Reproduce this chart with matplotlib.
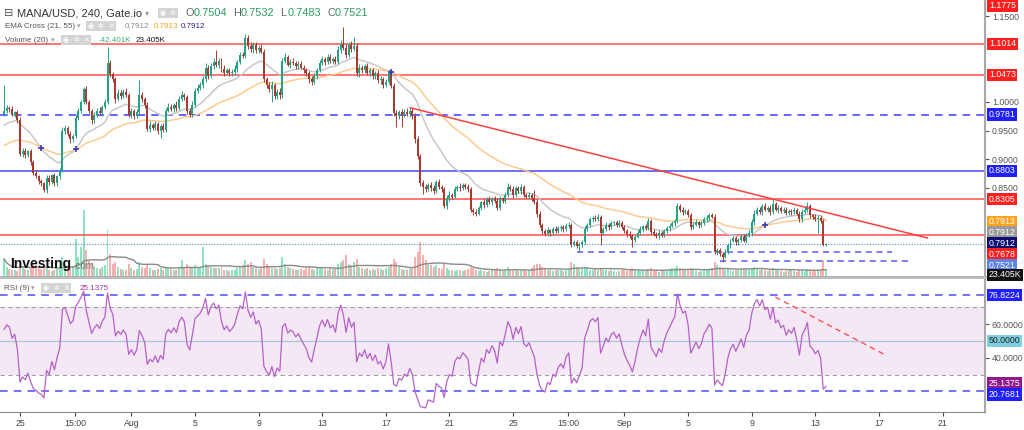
import numpy as np
import pandas as pd
import matplotlib
matplotlib.use("Agg")
import matplotlib.pyplot as plt
from matplotlib.transforms import blended_transform_factory

plt.rcParams['font.family'] = ['Liberation Sans', 'DejaVu Sans']

# MANA/USD 4h candles, Jul 24 00:00 -> Sep 13 16:00
first_open = 0.978
closes = [
    0.984, 0.990, 0.988, 0.978, 0.982, 0.968, 0.910, 0.915, 0.908, 0.914,
    0.895, 0.876, 0.870, 0.862, 0.858, 0.846, 0.868, 0.860, 0.872, 0.858,
    0.870, 0.880, 0.950, 0.955, 0.945, 0.935, 0.940, 0.972, 0.985, 1.000,
    1.022, 1.000, 0.985, 0.968, 0.978, 0.985, 0.980, 0.992, 1.000, 1.068,
    1.048, 1.040, 1.005, 1.015, 1.010, 1.018, 1.012, 0.978, 0.985, 0.975,
    0.982, 1.012, 1.005, 0.995, 0.953, 0.960, 0.955, 0.962, 0.950, 0.958,
    0.952, 0.985, 0.992, 0.988, 0.995, 0.990, 1.005, 1.012, 1.008, 0.985,
    0.978, 0.995, 1.020, 1.025, 1.030, 1.040, 1.060, 1.045, 1.062, 1.070,
    1.065, 1.072, 1.058, 1.050, 1.055, 1.050, 1.053, 1.058, 1.070, 1.082,
    1.080, 1.112, 1.098, 1.092, 1.100, 1.090, 1.095, 1.088, 1.040, 1.030,
    1.022, 1.030, 1.010, 1.018, 1.012, 1.072, 1.078, 1.065, 1.070, 1.068,
    1.062, 1.066, 1.060, 1.055, 1.050, 1.040, 1.035, 1.045, 1.055, 1.068,
    1.075, 1.070, 1.078, 1.072, 1.075, 1.070, 1.090, 1.102, 1.095, 1.082,
    1.100, 1.092, 1.098, 1.050, 1.060, 1.055, 1.062, 1.050, 1.055, 1.045,
    1.050, 1.038, 1.040, 1.030, 1.035, 1.050, 1.028, 0.980, 0.975, 0.982,
    0.978, 0.983, 0.979, 0.985, 0.975, 0.935, 0.905, 0.858, 0.852, 0.848,
    0.855, 0.850, 0.845, 0.860, 0.852, 0.848, 0.818, 0.832, 0.838, 0.835,
    0.848, 0.852, 0.850, 0.855, 0.852, 0.848, 0.812, 0.808, 0.805, 0.815,
    0.825, 0.820, 0.830, 0.826, 0.832, 0.828, 0.815, 0.832, 0.828, 0.838,
    0.852, 0.848, 0.838, 0.850, 0.845, 0.852, 0.838, 0.835, 0.838, 0.832,
    0.826, 0.805, 0.785, 0.775, 0.770, 0.776, 0.772, 0.778, 0.775, 0.780,
    0.782, 0.778, 0.784, 0.786, 0.752, 0.755, 0.748, 0.752, 0.756, 0.778,
    0.785, 0.795, 0.798, 0.796, 0.800, 0.772, 0.778, 0.785, 0.782, 0.788,
    0.790, 0.786, 0.789, 0.782, 0.775, 0.770, 0.766, 0.760, 0.765, 0.772,
    0.778, 0.783, 0.780, 0.792, 0.774, 0.770, 0.766, 0.771, 0.768, 0.775,
    0.780, 0.784, 0.788, 0.792, 0.818, 0.812, 0.808, 0.810, 0.803, 0.782,
    0.786, 0.790, 0.785, 0.788, 0.795, 0.798, 0.802, 0.800, 0.738, 0.742,
    0.735, 0.730, 0.738, 0.750, 0.758, 0.762, 0.755, 0.760, 0.765, 0.758,
    0.768, 0.772, 0.790, 0.805, 0.812, 0.808, 0.818, 0.812, 0.815, 0.808,
    0.822, 0.812, 0.815, 0.810, 0.812, 0.806, 0.810, 0.808, 0.812, 0.805,
    0.795, 0.808, 0.812, 0.818, 0.802, 0.800, 0.796, 0.798, 0.792, 0.7504,
    0.7521,
]
# wick lengths beyond the body, in thousandths
wick_up = [
    46, 4, 3, 5, 3, 4, 6, 4, 5, 3,   4, 3, 5, 3, 4, 3, 5, 4, 3, 4,
    3, 5, 6, 4, 3, 5, 4, 6, 5, 4,    5, 6, 4, 3, 5, 4, 6, 3, 5, 28,
    6, 5, 4, 8, 6, 5, 7, 4, 5, 3,    6, 26, 5, 4, 5, 6, 4, 5, 3, 4,
    5, 4, 6, 5, 4, 6, 5, 8, 4, 5,    4, 6, 5, 7, 5, 6, 8, 5, 6, 7,
    21, 5, 4, 6, 5, 4, 5, 6, 4, 5,   6, 7, 5, 6, 4, 5, 4, 6, 5, 4,
    5, 6, 4, 5, 6, 5, 7, 4, 5, 6,    4, 5, 6, 4, 5, 4, 6, 5, 4, 6,
    5, 4, 6, 5, 4, 5, 7, 6, 29, 6,   5, 6, 16, 5, 6, 4, 5, 6, 4, 5,
    4, 6, 5, 4, 6, 5, 4, 5, 6, 4,    5, 4, 6, 5, 4, 6, 5, 4, 6, 5,
    4, 5, 6, 4, 5, 3, 4, 5, 6, 4,    5, 4, 6, 4, 3, 5, 4, 3, 5, 4,
    3, 5, 4, 6, 3, 4, 5, 4, 3, 5,    6, 4, 5, 3, 4, 5, 4, 3, 5, 4,
    14, 5, 4, 3, 4, 5, 3, 4, 5, 3,   4, 3, 5, 4, 3, 4, 5, 3, 4, 5,
    4, 5, 3, 4, 5, 3, 4, 5, 3, 4,    3, 4, 5, 3, 4, 3, 5, 4, 3, 4,
    5, 3, 4, 5, 3, 4, 3, 5, 4, 3,    4, 3, 5, 4, 6, 4, 5, 3, 4, 3,
    4, 5, 3, 4, 5, 4, 5, 4, 4, 3,    4, 3, 5, 4, 3, 4, 5, 3, 4, 5,
    3, 4, 5, 6, 4, 5, 4, 5, 4, 5,    8, 4, 5, 3, 4, 5, 3, 4, 5, 3,
    4, 5, 4, 7, 4, 3, 4, 5, 4, 3,    1,
]
wick_dn = [
    3, 4, 5, 3, 4, 5, 4, 6, 5, 4,    5, 4, 3, 5, 4, 3, 4, 5, 3, 4,
    5, 4, 3, 5, 4, 6, 5, 3, 4, 5,    4, 3, 5, 6, 4, 5, 3, 4, 5, 3,
    4, 5, 6, 4, 5, 3, 4, 5, 6, 4,    3, 4, 5, 6, 4, 5, 4, 3, 5, 13,
    4, 5, 3, 4, 6, 5, 4, 3, 5, 6,    5, 4, 3, 5, 4, 6, 5, 4, 3, 5,
    4, 5, 6, 4, 3, 5, 4, 6, 5, 4,    3, 4, 5, 4, 6, 5, 4, 3, 5, 6,
    4, 22, 5, 4, 6, 5, 4, 3, 5, 4,   5, 4, 3, 5, 4, 6, 5, 4, 5, 3,
    4, 5, 3, 4, 5, 4, 3, 5, 4, 6,    4, 5, 3, 4, 6, 5, 4, 3, 5, 4,
    5, 4, 6, 5, 4, 3, 4, 5, 18, 4,   21, 4, 3, 5, 4, 6, 5, 4, 13, 5,
    4, 6, 5, 4, 3, 5, 3, 4, 5, 4,    3, 4, 5, 3, 4, 5, 4, 6, 4, 3,
    4, 5, 3, 4, 5, 4, 3, 4, 5, 4,    3, 4, 5, 3, 4, 5, 4, 3, 4, 5,
    4, 5, 4, 6, 4, 3, 5, 4, 3, 4,    5, 4, 3, 4, 5, 4, 3, 9, 5, 4,
    3, 4, 5, 3, 4, 22, 4, 3, 5, 4,   3, 4, 5, 4, 3, 5, 4, 13, 4, 3,
    4, 5, 3, 4, 5, 4, 3, 5, 4, 3,    4, 5, 3, 4, 3, 4, 5, 4, 3, 5,
    4, 3, 5, 4, 3, 4, 5, 3, 4, 5,    4, 9, 3, 4, 5, 3, 4, 5, 4, 3,
    4, 3, 5, 4, 3, 4, 5, 3, 4, 5,    4, 3, 5, 4, 3, 4, 3, 5, 4, 3,
    5, 4, 3, 4, 5, 4, 3, 25, 4, 2,   2,
]
# volume per candle, thousands
volume = [
    54, 30, 24, 20, 22, 18, 45, 32, 24, 20,   26, 40, 30, 26, 24, 36, 30, 22, 18, 20,
    24, 30, 60, 40, 28, 26, 34, 114, 60, 90,  200, 80, 50, 40, 30, 26, 24, 30, 36, 141,
    70, 40, 45, 30, 24, 22, 20, 40, 28, 22,   24, 45, 30, 26, 40, 28, 22, 20, 24, 26,
    22, 30, 26, 24, 22, 20, 28, 50, 30, 40,   28, 30, 36, 30, 26, 90, 40, 36, 30, 26,
    28, 26, 30, 22, 20, 18, 20, 22, 26, 30,   36, 50, 40, 45, 30, 26, 24, 28, 55, 40,
    30, 26, 28, 24, 26, 60, 40, 30, 28, 24,   22, 20, 24, 22, 26, 30, 24, 22, 26, 30,
    28, 24, 22, 26, 24, 28, 40, 45, 50, 66,   40, 36, 45, 55, 30, 26, 24, 28, 22, 24,
    22, 26, 24, 22, 26, 30, 40, 54, 45, 30,   24, 22, 20, 24, 26, 60, 75, 105, 65, 50,
    40, 36, 30, 36, 26, 24, 40, 28, 22, 20,   18, 20, 22, 18, 20, 24, 30, 26, 22, 18,
    20, 18, 16, 18, 20, 22, 26, 20, 18, 22,   30, 24, 20, 22, 18, 20, 22, 18, 20, 26,
    36, 40, 38, 30, 24, 22, 20, 18, 20, 22,   20, 18, 22, 24, 45, 38, 30, 28, 24, 30,
    26, 22, 20, 24, 20, 28, 22, 20, 18, 20,   18, 16, 18, 22, 20, 18, 20, 26, 20, 22,
    18, 20, 22, 24, 26, 20, 18, 16, 18, 20,   22, 24, 26, 28, 33, 28, 22, 20, 24, 26,
    20, 18, 16, 18, 22, 20, 24, 26, 45, 36,   30, 26, 22, 24, 20, 18, 20, 22, 24, 27,
    22, 20, 26, 30, 24, 22, 24, 20, 18, 22,   27, 24, 20, 18, 16, 18, 20, 22, 18, 16,
    20, 22, 18, 24, 20, 18, 20, 22, 24, 51,   23,
]

red_levels = [1.1014, 1.0473, 0.8305, 0.7678]
blue_level = 0.8803
blue_dash_level = 0.9781
last_close = 0.7521
support_a = (216, 335, 0.739)   # start idx, end idx, price
support_b = (270, 341, 0.723)
trend = ([153.2, 348.3], [0.990, 0.7627])

rsi_levels = [76.8224, 20.7681]
rsi_trend = ([290.9, 332.4], [75.9, 41.8])

price_ticks = [0.85, 0.90, 0.95, 1.00, 1.15]
rsi_ticks = [40, 60]
tick_pos = [6, 26.8, 48, 72, 96, 120, 144, 168, 192, 212.8, 234, 258, 282, 306, 330, 354]
tick_lab = ['25', '15:00', 'Aug', '5', '9', '13', '17', '21', '25', '15:00', 'Sep',
            '5', '9', '13', '17', '21']

# ---------------------------------------------------------------
c = np.array(closes)
o = np.concatenate([[first_open], c[:-1]])
hi = np.maximum(o, c) + np.array(wick_up) / 1000.0
lo = np.minimum(o, c) - np.array(wick_dn) / 1000.0
idx = np.arange(len(c))
up = c >= o


def ema(vals, n, seed):
    k = 2.0 / (n + 1)
    e = seed
    out = []
    for v in vals:
        e = e + k * (v - e)
        out.append(e)
    return np.array(out)


def rsi(vals, n, start, g0, l0):
    ag, al, prev = g0, l0, start
    out = []
    for v in vals:
        d = v - prev
        ag = (ag * (n - 1) + max(d, 0)) / n
        al = (al * (n - 1) + max(-d, 0)) / n
        out.append(100 - 100 / (1 + ag / al))
        prev = v
    return np.array(out)


ema21 = ema(c, 21, 0.957)
ema55 = ema(c, 55, 0.922)
rsi9 = rsi(c, 9, first_open, 0.0065, 0.0055)
vol_ma = pd.Series(volume).rolling(20, min_periods=1).mean()

W, H = 1024, 430
fig = plt.figure(figsize=(W / 100, H / 100), dpi=100)
fig.patch.set_facecolor('white')
XL = (-1.55, 370)


def rect(x0, y0, x1, y1):
    return [x0 / W, 1 - y1 / H, (x1 - x0) / W, (y1 - y0) / H]


# volume sits under the price pane
vax = fig.add_axes(rect(0, 0, 985, 277))
vax.set_xlim(*XL)
vax.set_ylim(0, 830)
vax.bar(idx, volume, width=0.75, color=np.where(up, '#8fe2bf', '#f7b0ae'), linewidth=0)
vax.plot(idx, vol_ma, color='#8a8a8a', lw=1)
vax.axhline(0.6, color='#5cbf8e', lw=1.2)
vax.axis('off')

ax = fig.add_axes(rect(0, 0, 985, 277))
ax.patch.set_alpha(0)
ax.set_xlim(*XL)
ax.set_ylim(0.6946, 1.178)

for lv in red_levels:
    ax.axhline(lv, color='#ff5c5c', lw=1.2, zorder=1)
ax.axhline(blue_level, color='#4646f0', lw=1.1, zorder=1)
ax.axhline(blue_dash_level, color='#3c3cff', lw=1.1, ls=(0, (5, 4)), zorder=1)
ax.axhline(last_close, color='#5b84e6', lw=0.8, ls=(0, (1, 1.5)), zorder=1)
for s0, s1, lv in (support_a, support_b):
    ax.plot([s0, s1], [lv, lv], color='#5b5bf5', lw=1.1, ls=(0, (4, 3)), zorder=1)
ax.plot(trend[0], trend[1], color='#ff4040', lw=1.1, zorder=4)

ax.plot(idx, ema21, color='#c4c4c4', lw=1, zorder=2)
ax.plot(idx, ema55, color='#ffc685', lw=1, zorder=2)
cross = np.where(np.diff(np.sign(ema21 - ema55)) != 0)[0] + 1
ax.plot(cross, ema21[cross], '+', color='#3a3ab5', ms=4, mew=1.2, zorder=5)

col = np.where(up, '#22a386', '#a83a31')
ax.vlines(idx, lo, hi, colors=col, lw=0.7, zorder=3)
body_lo = np.minimum(o, c)
body_h = np.maximum(np.abs(c - o), 0.0012)
ax.bar(idx, body_h, bottom=body_lo, width=0.75, color=col, linewidth=0, zorder=3)

ax.yaxis.tick_right()
ax.set_yticks(price_ticks)
ax.set_yticklabels(['%.4f' % t for t in price_ticks])
ax.tick_params(axis='y', labelsize=6.3, colors='#555555', length=3, pad=2)
ax.set_xticks([])
for s in ['left', 'top']:
    ax.spines[s].set_visible(False)
ax.spines['right'].set_color('#a8a8a8')
ax.spines['right'].set_linewidth(1.5)
ax.spines['bottom'].set_color('#b8b8b8')
ax.spines['bottom'].set_linewidth(2)

tr = blended_transform_factory(ax.transAxes, ax.transData)


def tag(a, trans, y, txt, bg, fg='white'):
    a.text(1.004, y, txt, transform=trans, ha='left', va='center', fontsize=6.3,
           color=fg, clip_on=False, zorder=10,
           bbox=dict(boxstyle='square,pad=0.18', fc=bg, ec='none'))


# price tags (lower ones pushed apart as on the chart)
tag(ax, tr, 1.1685, '1.1775', '#ff1f1f')
tag(ax, tr, 1.1014, '1.1014', '#ff1f1f')
tag(ax, tr, 1.0473, '1.0473', '#ff1f1f')
tag(ax, tr, 0.9781, '0.9781', '#1f1fff')
tag(ax, tr, 0.8803, '0.8803', '#1f1fff')
tag(ax, tr, 0.8305, '0.8305', '#ff1f1f')
tag(ax, tr, 0.7913, '0.7913', '#ffa31f')
tag(ax, tr, 0.7731, '0.7912', '#9a9a9a')
tag(ax, tr, 0.7539, '0.7912', '#0d0d70')
tag(ax, tr, 0.7347, '0.7678', '#ff1f1f')
tag(ax, tr, 0.7155, '0.7521', '#5b84e6')
tag(ax, tr, 0.6985, '23.405K', '#111111')

# Investing watermark
fig.text(10 / W, 1 - 264 / H, 'Investing', fontsize=10, fontweight='bold', color='#111111',
         va='center', ha='left')
fig.text(73 / W, 1 - 266 / H, '.com', fontsize=7, color='#777777', va='center', ha='left')

# ------------------------- RSI pane -----------------------------
rax = fig.add_axes(rect(0, 280, 985, 412))
rax.set_xlim(*XL)
rax.set_ylim(8.2, 85.9)
rax.axhspan(30, 70, color='#f4e8f5', lw=0, zorder=0)
rax.axhline(70, color='#a0a0a0', lw=0.8, ls=(0, (4, 3)), zorder=1)
rax.axhline(30, color='#a0a0a0', lw=0.8, ls=(0, (4, 3)), zorder=1)
rax.axhline(50, color='#a9c7d6', lw=0.9, zorder=1)
for lv in rsi_levels:
    rax.axhline(lv, color='#4b4bff', lw=1.1, ls=(0, (5, 4)), zorder=1)
rax.plot(idx, rsi9, color='#b660c9', lw=0.9, zorder=3)
rax.plot(rsi_trend[0], rsi_trend[1], color='#ff5050', lw=1, ls=(0, (4, 3)), zorder=4)

rax.yaxis.tick_right()
rax.set_yticks(rsi_ticks)
rax.set_yticklabels(['%.4f' % t for t in rsi_ticks])
rax.tick_params(axis='y', labelsize=6.3, colors='#555555', length=3, pad=2)
rax.set_xticks(tick_pos)
rax.set_xticklabels(tick_lab)
rax.tick_params(axis='x', labelsize=6.3, colors='#444444', length=3, pad=2)
for s in ['left', 'top']:
    rax.spines[s].set_visible(False)
rax.spines['right'].set_color('#a8a8a8')
rax.spines['right'].set_linewidth(1.5)
rax.spines['bottom'].set_color('#8a8a8a')

rtr = blended_transform_factory(rax.transAxes, rax.transData)
tag(rax, rtr, 76.8224, '76.8224', '#1f1fff')
tag(rax, rtr, 50, '50.0000', '#7fd0de', fg='#222222')
tag(rax, rtr, 25.1375, '25.1375', '#8e1a8e')
tag(rax, rtr, 18.5, '20.7681', '#1f1fff')

# ------------------------- header texts -------------------------


def ftext(x, y, s, size, color, **kw):
    fig.text(x / W, 1 - y / H, s, fontsize=size, color=color, va='center', ha='left', **kw)


def icons(x, y, glyphs):
    for k, g in enumerate(glyphs):
        fig.text((x + k * 10) / W, 1 - y / H, g, fontsize=5, color='white', va='center',
                 ha='left', family=['DejaVu Sans'],
                 bbox=dict(boxstyle='square,pad=0.25', fc='#d4d4d4', ec='none'))


ftext(4, 13, '⊟', 8, '#555555', family=['DejaVu Sans'])
ftext(17, 13, 'MANA/USD, 240, Gate.io', 8, '#333333')
ftext(145, 13, '▾', 6, '#999999', family=['DejaVu Sans'])
icons(160, 13, ['◉', '✲'])
for k, (lab, val) in enumerate([('O', '0.7504'), ('H', '0.7532'), ('L', '0.7483'), ('C', '0.7521')]):
    x0 = 186 + k * 47
    ftext(x0, 13, lab, 7.9, '#666666')
    ftext(x0 + 8, 13, val, 7.9, '#2f9c63')

ftext(5, 26, 'EMA Cross (21, 55)', 5.8, '#555555')
ftext(77, 26, '▾', 5, '#999999', family=['DejaVu Sans'])
icons(88, 26, ['◉', '✲', '✕'])
ftext(125, 26, '0.7912', 5.8, '#8c8c8c')
ftext(154, 26, '0.7913', 5.8, '#f5a020')
ftext(181, 26, '0.7912', 5.8, '#26269e')

ftext(5, 40, 'Volume (20)', 5.8, '#555555')
ftext(51, 40, '▾', 5, '#999999', family=['DejaVu Sans'])
icons(63, 40, ['◉', '✲', '✕'])
ftext(99, 40, '-42.401K', 5.8, '#35b576')
ftext(136, 40, '23.405K', 5.8, '#111111')

ftext(4, 288, 'RSI (9)', 5.8, '#555555')
ftext(31, 288, '▾', 5, '#999999', family=['DejaVu Sans'])
icons(43, 288, ['◉', '✲', '✕'])
ftext(80, 288, '25.1375', 5.8, '#a0309e')

fig.savefig('out.png', dpi=100)
